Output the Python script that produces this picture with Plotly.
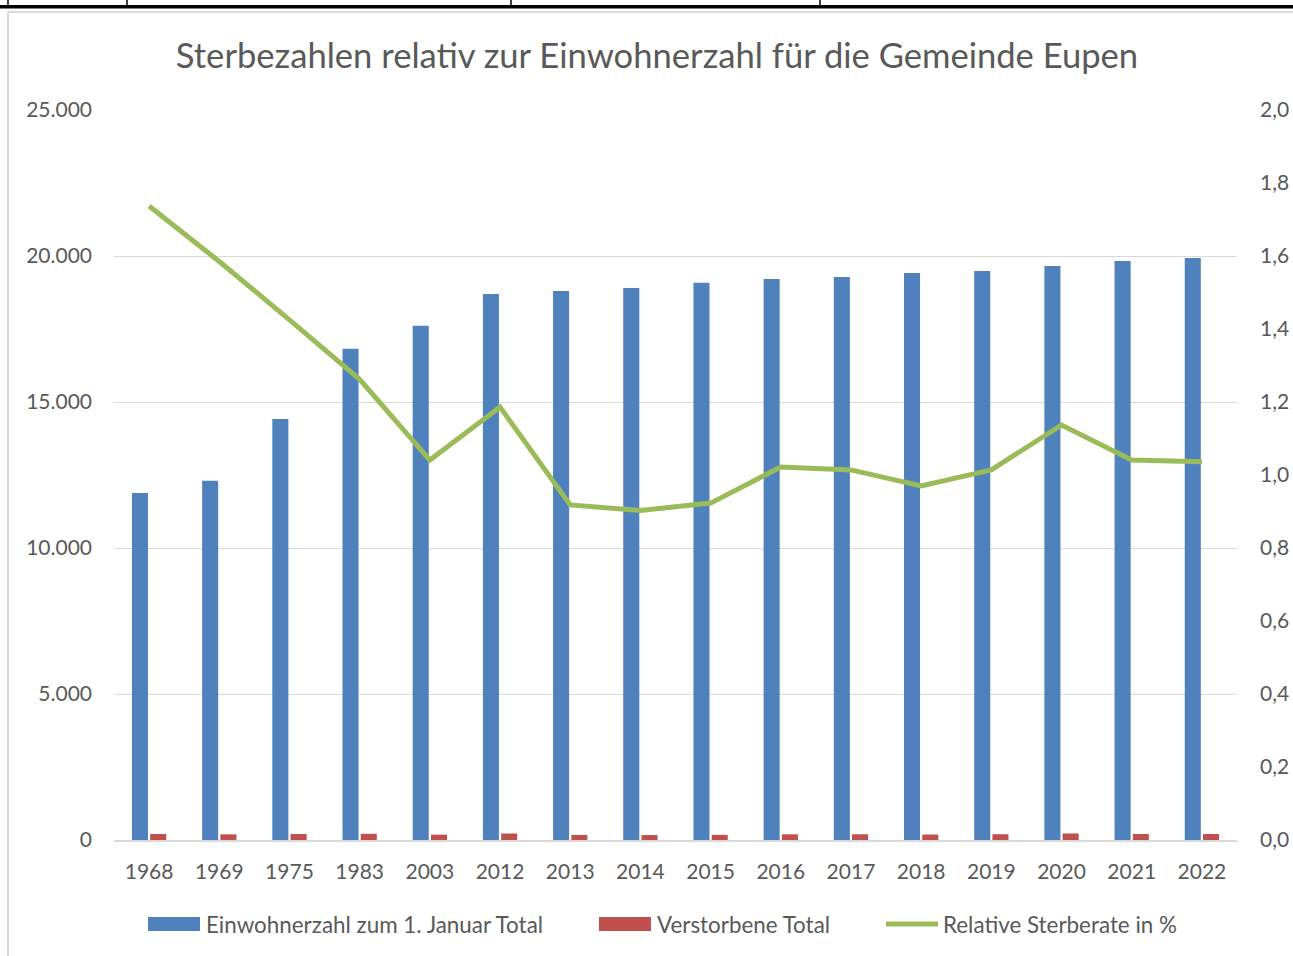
import plotly.graph_objects as go

years = ["1968", "1969", "1975", "1983", "2003", "2012", "2013", "2014",
         "2015", "2016", "2017", "2018", "2019", "2020", "2021", "2022"]
einwohner = [11880, 12300, 14420, 16820, 17610, 18700, 18800, 18900,
             19080, 19210, 19280, 19420, 19490, 19660, 19830, 19930]
verstorbene = [206, 194, 205, 212, 183, 222, 173, 170,
               176, 196, 196, 188, 198, 224, 206, 207]
rate = [1.737, 1.585, 1.425, 1.262, 1.041, 1.186, 0.918, 0.903,
        0.923, 1.022, 1.014, 0.970, 1.014, 1.137, 1.041, 1.036]
series_names = ["Einwohnerzahl zum 1. Januar Total", "Verstorbene Total",
                "Relative Sterberate in %"]
colors = ["#4F81BD", "#C0504D", "#9BBB59"]

W, H = 1293, 956
L, R, T, B = 114, 1237, 110, 840
pw, ph = R - L, B - T


def px(x):
    return (x - L) / pw


def py(y):
    return (B - y) / ph


FONT = "Lato"
TXT = "#595959"

fig = go.Figure()
fig.add_trace(go.Bar(x=years, y=einwohner, name=series_names[0],
                     marker_color=colors[0], marker_line_width=0, showlegend=False))
fig.add_trace(go.Bar(x=years, y=verstorbene, name=series_names[1],
                     marker_color=colors[1], marker_line_width=0, showlegend=False))
fig.add_trace(go.Scatter(x=years, y=rate, name=series_names[2], yaxis="y2",
                         mode="lines", line=dict(color=colors[2], width=5),
                         showlegend=False))

shapes = []
annotations = []
# outer frame (grey) and black table line on top
shapes.append(dict(type="line", xref="paper", yref="paper", x0=px(8), x1=px(8),
                   y0=py(12), y1=py(960), line=dict(color="#d9d9d9", width=2), layer="below"))
shapes.append(dict(type="line", xref="paper", yref="paper", x0=px(8), x1=px(1300),
                   y0=py(12), y1=py(12), line=dict(color="#d9d9d9", width=2), layer="below"))
shapes.append(dict(type="rect", xref="paper", yref="paper", x0=px(0), x1=px(1300),
                   y0=py(5), y1=py(8.5), fillcolor="black", line=dict(width=0)))
for xv in [8, 127, 511, 820]:
    shapes.append(dict(type="line", xref="paper", yref="paper", x0=px(xv), x1=px(xv),
                       y0=py(-2), y1=py(6), line=dict(color="black", width=1.5)))

# legend drawn manually (wide swatches as in the reference)
leg_y = 924
swatch_x = [148, 599, 884]
text_x = [204, 655, 941]
for i in range(3):
    if i < 2:
        shapes.append(dict(type="rect", xref="paper", yref="paper",
                           x0=px(swatch_x[i]), x1=px(swatch_x[i] + 52),
                           y0=py(leg_y - 7), y1=py(leg_y + 7),
                           fillcolor=colors[i], line=dict(width=0)))
    else:
        shapes.append(dict(type="line", xref="paper", yref="paper",
                           x0=px(swatch_x[i] + 2), x1=px(swatch_x[i] + 54),
                           y0=py(leg_y), y1=py(leg_y),
                           line=dict(color=colors[i], width=5)))
    annotations.append(dict(text=series_names[i], xref="paper", yref="paper",
                            x=px(text_x[i]), y=py(leg_y), xanchor="left", yanchor="middle",
                            showarrow=False, font=dict(size=22.4, color=TXT, family=FONT)))

fig.update_layout(
    width=W, height=H,
    margin=dict(l=L, r=W - R, t=T, b=H - B, autoexpand=False),
    paper_bgcolor="white", plot_bgcolor="white",
    separators=",.",
    font=dict(family=FONT, color=TXT, size=21),
    title=dict(text="Sterbezahlen relativ zur Einwohnerzahl für die Gemeinde Eupen",
               x=657 / W, xanchor="center", y=1 - 56 / H, yanchor="middle",
               font=dict(family=FONT, size=34.6, color=TXT)),
    barmode="group", bargap=0.48, bargroupgap=0.12,
    xaxis=dict(showgrid=False, showline=True, linecolor="#d9d9d9", linewidth=1.5,
               automargin=False,
               ticks="", tickfont=dict(size=21, color=TXT), ticklabelstandoff=12),
    yaxis=dict(range=[0, 25000], dtick=5000, tickformat=",d", showgrid=True,
               automargin=False,
               gridcolor="#d9d9d9", gridwidth=1, zeroline=False, showline=False,
               ticks="", tickfont=dict(size=21, color=TXT), ticklabelstandoff=21),
    yaxis2=dict(range=[0, 2.0], dtick=0.2, tickformat=".1f", overlaying="y", side="right",
                automargin=False,
                showgrid=False, zeroline=False, showline=False, ticks="",
                tickfont=dict(size=21, color=TXT), ticklabelstandoff=22),
    showlegend=False,
    shapes=shapes,
    annotations=annotations,
)

fig.write_html("out.html", config={"displayModeBar": False},
               post_script="document.body.style.margin='0';")
